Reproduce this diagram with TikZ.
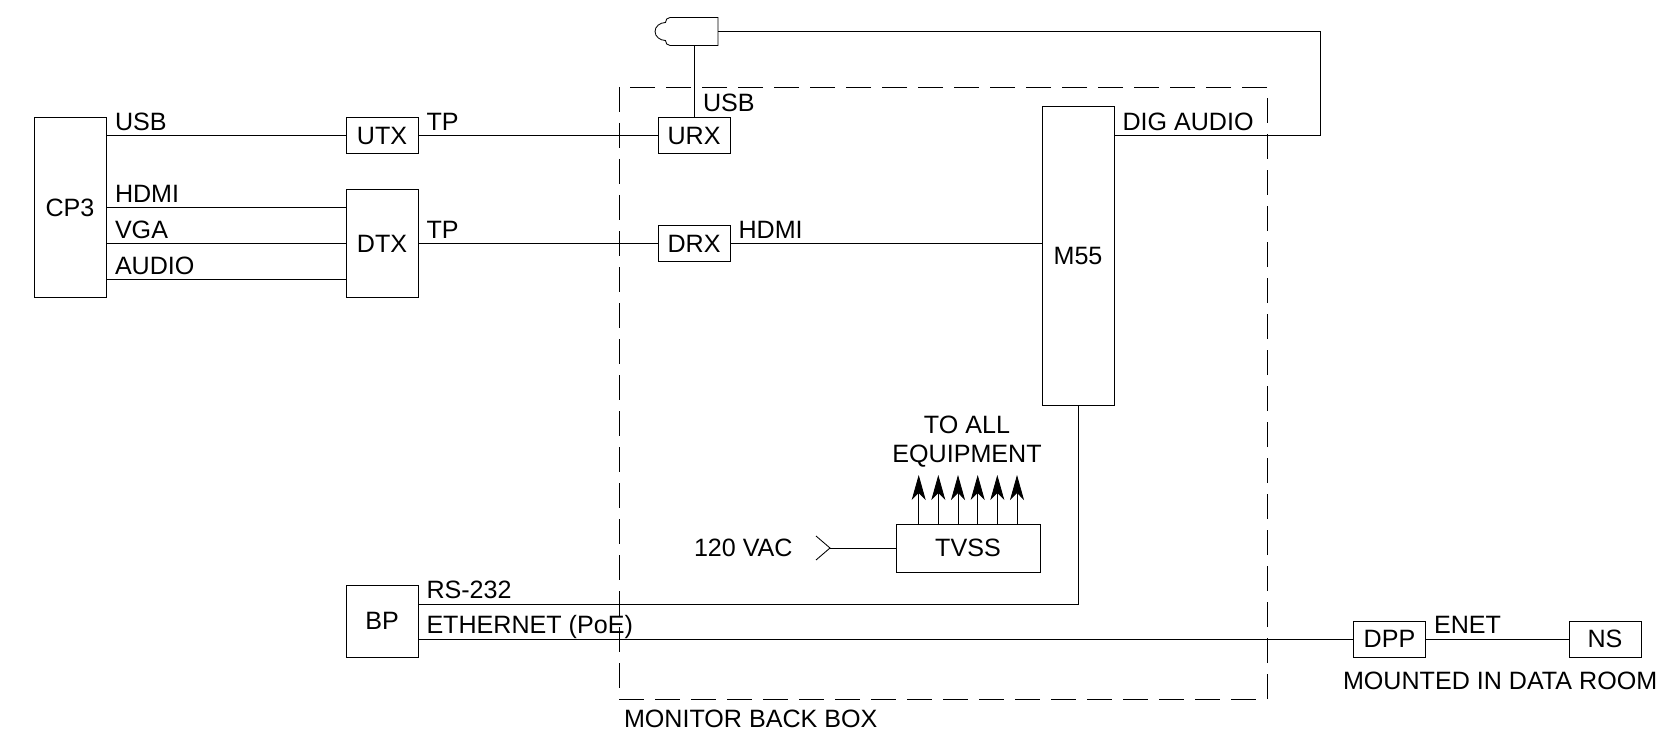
\documentclass[tikz,border=0pt]{standalone}
\usepackage{fontspec}
\setmainfont{Liberation Sans}
\usetikzlibrary{arrows.meta,positioning}
\tikzset{
  unit/.style={draw,line width=0.85pt,inner sep=0pt,outer sep=0pt,minimum width=72pt,minimum height=#1,
    font=\fontsize{25.1}{28.7}\selectfont,align=center},
  unit/.default=36pt,
  tag/.style={anchor=base west,inner sep=0pt,outer sep=0pt,font=\fontsize{25.1}{28.7}\selectfont,align=left},
  cable/.style={line width=0.85pt},
  feed/.style={line width=0.85pt,-{Stealth[length=25pt,width=14pt,inset=7pt]}},
  backbox/.style={line width=0.85pt,dash pattern=on 25pt off 11pt},
}
\begin{document}
\begin{tikzpicture}[x=1pt,y=-1pt]
  \useasboundingbox (0,0) rectangle (1659,738);
  % back box
  \draw[backbox] (619,87) rectangle (1267,699);
  % boxes
  \node[unit=180pt] (cp3) at (70,207.5) {CP3};
  \node[unit] (utx) at (382,135.5) {UTX};
  \node[unit=108pt] (dtx) at (382,243.5) {DTX};
  \node[unit] (urx) at (694,135.5) {URX};
  \node[unit] (drx) at (694,243.5) {DRX};
  \node[unit=299pt] (mff) at (1078,255.5) {M55};
  \node[unit=48pt,minimum width=144pt] (tvss) at (968,548) {TVSS};
  \node[unit=72pt] (bp) at (382,621) {BP};
  \node[unit] (dpp) at (1389.5,639) {DPP};
  \node[unit] (ns) at (1605,639) {NS};
  % camera
  \coordinate (camin) at (694,45.5);
  \coordinate (camout) at (718,31.5);
  \draw[cable] (718,17.5) -- (670,17.5) .. controls (667,17.5) and (665.5,20) .. (665.5,22.5)
    .. controls (660,22.5) and (655,26.5) .. (655,31.5) .. controls (655,36.5) and (660,40.5) .. (665.5,40.5)
    .. controls (665.5,43) and (667,45.5) .. (670,45.5) -- (718,45.5) -- cycle;
  % cables
  \coordinate (hdmi) at (346,207.5);
  \coordinate (vga) at (346,243.5);
  \coordinate (audio) at (346,279.5);
  \coordinate (rs) at (1078,604);
  \coordinate (dig) at (1320.5,135.5);
  \draw[cable] (cp3.east |- utx) -- (utx);
  \draw[cable] (utx) -- (urx);
  \draw[cable] (cp3.east |- hdmi) -- (hdmi);
  \draw[cable] (cp3.east |- vga) -- (vga);
  \draw[cable] (cp3.east |- audio) -- (audio);
  \draw[cable] (dtx) -- (drx);
  \draw[cable] (drx) -- (mff.west |- drx);
  \draw[cable] (camin) -- (urx);
  \draw[cable] (mff.east |- dig) -- (dig) -- (dig |- camout) -- (camout);
  \draw[cable] (mff.south) -- (rs) -- (bp.east |- rs);
  \draw[cable] (bp.east |- dpp) -- (dpp);
  \draw[cable] (dpp) -- (ns);
  % power
  \coordinate (mains) at (830,548);
  \draw[cable] (816,536) -- (mains) -- (816,560);
  \draw[cable] (mains) -- (tvss);
  \foreach \x [count=\i] in {918.7,938.3,958,977.7,997.3,1017} {
    \coordinate (out\i) at (\x,475);
    \draw[feed] (tvss.north -| out\i) -- (out\i);
  }
  % labels
  \node[tag] (usba) at (115,130.7) {USB};
  \node[tag] (hdmia) at (115,202.7) {HDMI};
  \node[tag] (vgaa) at (115,238) {VGA};
  \node[tag] (audioa) at (115,274.5) {AUDIO};
  \node[tag] (tpa) at (426.5,130.7) {TP};
  \node[tag] (tpb) at (426.5,238) {TP};
  \node[tag] (usbb) at (703,111.5) {USB};
  \node[tag] (hdmib) at (738.5,238) {HDMI};
  \node[tag] (diga) at (1122.5,130.7) {DIG AUDIO};
  \node[tag,anchor=base,align=center] (toall) at (967,462) {TO ALL\\EQUIPMENT};
  \node[tag] (vac) at (694,556) {120 VAC};
  \node[tag] (rsa) at (426.5,598.5) {RS-232};
  \node[tag] (eth) at (426.5,633.5) {ETHERNET (PoE)};
  \node[tag] (enet) at (1434,633) {ENET};
  \node[tag] (room) at (1343,689) {MOUNTED IN DATA ROOM};
  \node[tag] (monitor) at (624,727) {MONITOR BACK BOX};
\end{tikzpicture}
\end{document}
